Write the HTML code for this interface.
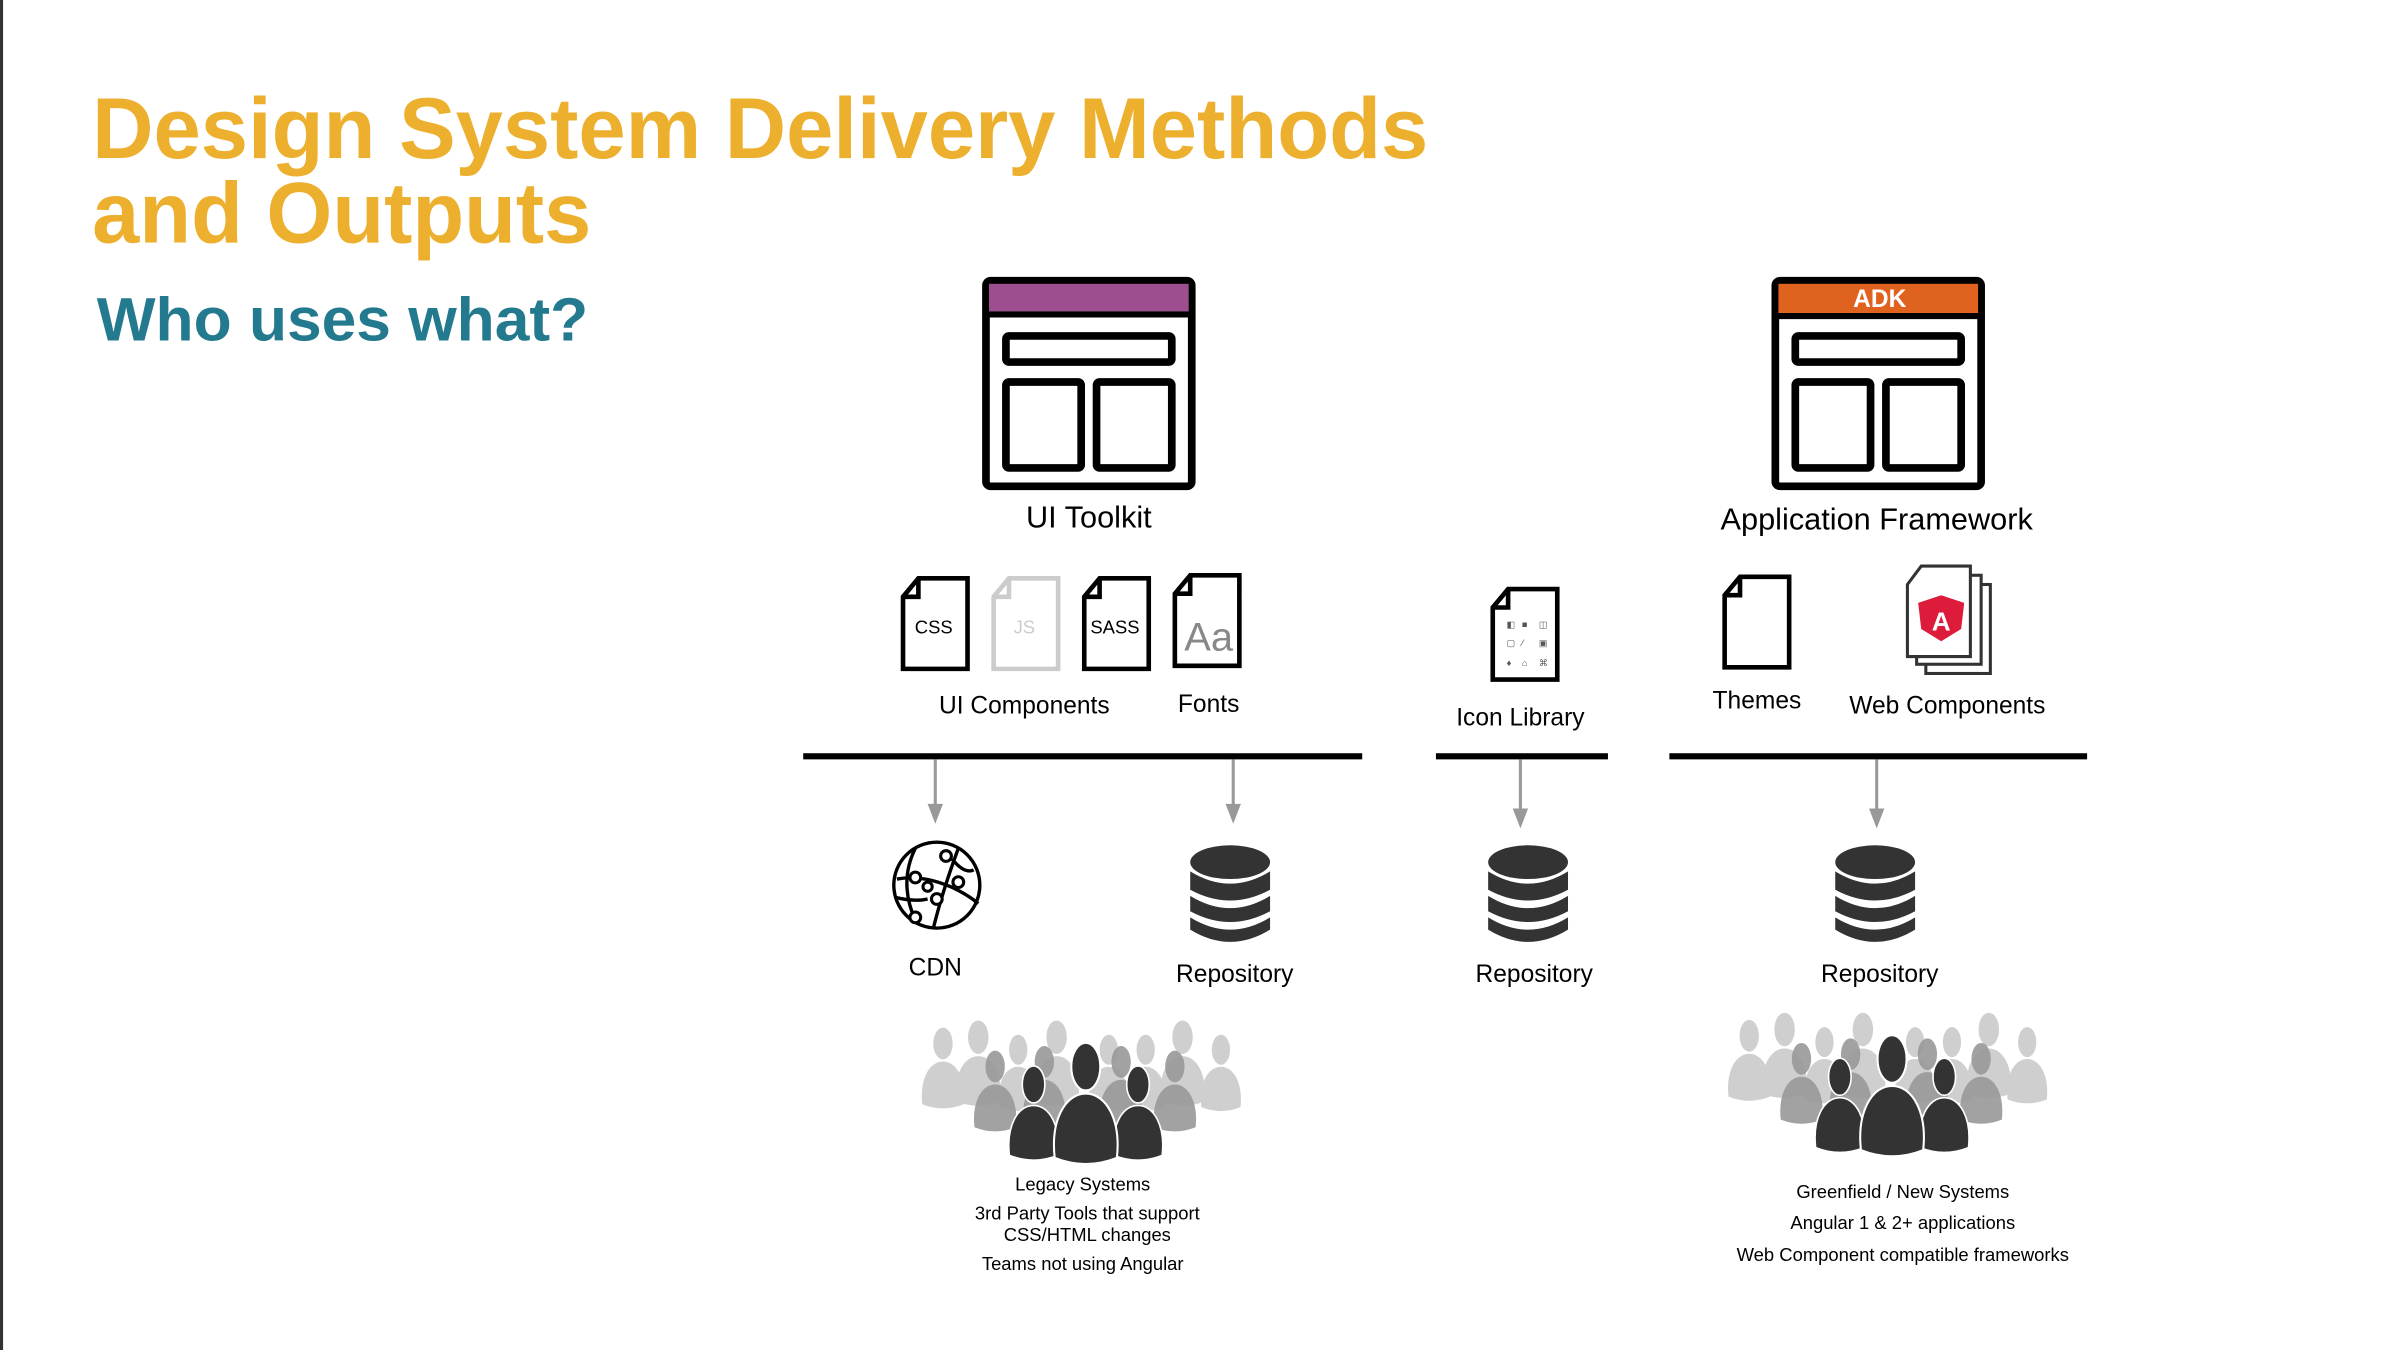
<!DOCTYPE html>
<html><head><meta charset="utf-8"><style>
html,body{margin:0;padding:0;background:#fff;}
svg{display:block;}
text{font-family:"Liberation Sans",Arial,sans-serif;}
</style></head><body>
<svg width="2405" height="1350" viewBox="0 0 1566 880" preserveAspectRatio="none" xmlns="http://www.w3.org/2000/svg">
<defs>
<g id="person"><ellipse cx="0" cy="-22" rx="7" ry="11.5"/><path d="M-15,22 C-17,4 -10,-9 0,-9 C10,-9 17,4 15,22 Q0,28 -15,22Z"/></g>
<g id="db">
<ellipse cx="0" cy="-18" rx="26" ry="11" fill="#333"/>
<path d="M-26,-12 Q0,4 26,-12 V0 Q0,14 -26,0Z" fill="#333"/>
<path d="M-26,4 Q0,20 26,4 V14 Q0,28 -26,14Z" fill="#333"/>
<path d="M-26,18 Q0,34 26,18 V26 Q0,42 -26,26Z" fill="#333"/>
</g>
<g id="file"><path d="M10,0 H42 V59 H0 V12 Z M0,12 H10 V0" fill="#fff" stroke-width="3" stroke-linejoin="miter"/></g>
</defs>
<rect x="0" y="0" width="2" height="880" fill="#333"/>
<text x="60" y="103" font-size="56" font-weight="bold" fill="#EDB02E" textLength="870" lengthAdjust="spacingAndGlyphs">Design System Delivery Methods</text>
<text x="60" y="158" font-size="56" font-weight="bold" fill="#EDB02E" textLength="325" lengthAdjust="spacingAndGlyphs">and Outputs</text>
<text x="63" y="222" font-size="40" font-weight="bold" fill="#237A8F" textLength="320" lengthAdjust="spacingAndGlyphs">Who uses what?</text>

<rect x="642" y="183" width="134" height="134" rx="3" fill="#fff" stroke="#000" stroke-width="5"/>
<rect x="644" y="185" width="130" height="18" fill="#9E4E8F"/>
<line x1="642" y1="205" x2="776" y2="205" stroke="#000" stroke-width="4"/>
<rect x="655" y="219" width="108" height="17" rx="2" fill="none" stroke="#000" stroke-width="5"/>
<rect x="655" y="249" width="49" height="56" rx="2" fill="none" stroke="#000" stroke-width="5"/>
<rect x="714" y="249" width="49" height="56" rx="2" fill="none" stroke="#000" stroke-width="5"/>
<text x="709" y="344" font-size="20" text-anchor="middle">UI Toolkit</text>

<rect x="1156" y="183" width="134" height="134" rx="3" fill="#fff" stroke="#000" stroke-width="5"/>
<rect x="1158" y="185" width="130" height="19" fill="#E0621F"/>
<text x="1224" y="200" font-size="16" font-weight="bold" fill="#fff" text-anchor="middle">ADK</text>
<line x1="1156" y1="206" x2="1290" y2="206" stroke="#000" stroke-width="4"/>
<rect x="1169" y="219" width="108" height="17" rx="2" fill="none" stroke="#000" stroke-width="5"/>
<rect x="1169" y="249" width="49" height="56" rx="2" fill="none" stroke="#000" stroke-width="5"/>
<rect x="1228" y="249" width="49" height="56" rx="2" fill="none" stroke="#000" stroke-width="5"/>
<text x="1222" y="345" font-size="20" text-anchor="middle">Application Framework</text>

<use href="#file" x="588" y="377" stroke="#000"/>
<text x="608" y="413" font-size="12" text-anchor="middle">CSS</text>
<use href="#file" x="647" y="377" stroke="#ccc"/>
<text x="667" y="413" font-size="12" text-anchor="middle" fill="#ccc">JS</text>
<use href="#file" x="706" y="377" stroke="#000"/>
<text x="726" y="413" font-size="12" text-anchor="middle">SASS</text>
<use href="#file" x="765" y="375" stroke="#000"/>
<text x="787" y="424" font-size="26" text-anchor="middle" fill="#888" font-family="Liberation Serif,serif">Aa</text>
<text x="667" y="465" font-size="16" text-anchor="middle">UI Components</text>
<text x="787" y="464" font-size="16" text-anchor="middle">Fonts</text>

<use href="#file" x="972" y="384" stroke="#000"/>
<g fill="#555" font-size="6">
<text x="981" y="409">◧</text><text x="991" y="409">■</text><text x="1002" y="409">◫</text>
<text x="981" y="421">▢</text><text x="991" y="421">⁄</text><text x="1002" y="421">▣</text>
<text x="981" y="434">♦</text><text x="991" y="434">⌂</text><text x="1002" y="434">⌘</text>
</g>
<text x="990" y="473" font-size="16" text-anchor="middle">Icon Library</text>

<use href="#file" x="1123" y="376" stroke="#000"/>
<text x="1144" y="462" font-size="16" text-anchor="middle">Themes</text>

<g stroke="#333" stroke-width="2" fill="#fff">
<rect x="1254" y="381" width="42" height="58"/>
<rect x="1248" y="375" width="42" height="58"/>
<path d="M1251,369 H1283 V428 H1242 V381 Z"/>
</g>
<path d="M1264,388 L1279,393 L1277,410 L1264,418 L1251,410 L1249,393 Z" fill="#DD1B3A"/>
<text x="1264" y="411" font-size="17" font-weight="bold" fill="#fff" text-anchor="middle">A</text>
<text x="1268" y="465" font-size="16" text-anchor="middle">Web Components</text>

<g fill="#000">
<rect x="523" y="491" width="364" height="4"/>
<rect x="935" y="491" width="112" height="4"/>
<rect x="1087" y="491" width="272" height="4"/>
</g>
<g stroke="#999" stroke-width="2" fill="#999">
<line x1="609" y1="495" x2="609" y2="528"/><path d="M604,524 L614,524 L609,537Z" stroke="none"/>
<line x1="803" y1="495" x2="803" y2="528"/><path d="M798,524 L808,524 L803,537Z" stroke="none"/>
<line x1="990" y1="495" x2="990" y2="531"/><path d="M985,527 L995,527 L990,540Z" stroke="none"/>
<line x1="1222" y1="495" x2="1222" y2="531"/><path d="M1217,527 L1227,527 L1222,540Z" stroke="none"/>
</g>

<g stroke="#000" stroke-width="2.2" fill="none">
<ellipse cx="610" cy="577" rx="28" ry="28"/>
<path d="M596,553 Q585,575 596,600"/>
<path d="M624,553 Q614,580 608,604"/>
<path d="M584,573 Q600,570 619,578 Q630,583 637,589"/>
<path d="M583,585 Q596,588 604,586"/>
<path d="M620,560 Q628,570 634,567"/>
</g>
<g fill="#fff" stroke="#000" stroke-width="2">
<circle cx="596" cy="572" r="3.5"/><circle cx="610" cy="586" r="3.5"/><circle cx="624" cy="575" r="3.5"/><circle cx="596" cy="598" r="3.5"/><circle cx="616" cy="558" r="3.5"/><circle cx="604" cy="578" r="3"/>
</g>
<text x="609" y="636" font-size="16" text-anchor="middle">CDN</text>

<use href="#db" x="801" y="580"/>
<use href="#db" x="995" y="580"/>
<use href="#db" x="1221" y="580"/>
<text x="804" y="640" font-size="16" text-anchor="middle">Repository</text>
<text x="999" y="640" font-size="16" text-anchor="middle">Repository</text>
<text x="1224" y="640" font-size="16" text-anchor="middle">Repository</text>

<g fill="#cfcfcf">
<use href="#person" transform="translate(614,700) scale(0.9)"/>
<use href="#person" transform="translate(637,697) scale(0.95)"/>
<use href="#person" transform="translate(663,703) scale(0.85)"/>
<use href="#person" transform="translate(688,697) scale(0.95)"/>
<use href="#person" transform="translate(722,703) scale(0.85)"/>
<use href="#person" transform="translate(746,703) scale(0.85)"/>
<use href="#person" transform="translate(770,697) scale(0.95)"/>
<use href="#person" transform="translate(795,703) scale(0.85)"/>
</g>
<g fill="#999" opacity="0.9">
<use href="#person" transform="translate(648,715) scale(0.9)"/>
<use href="#person" transform="translate(680,712) scale(0.9)"/>
<use href="#person" transform="translate(730,712) scale(0.9)"/>
<use href="#person" transform="translate(765,715) scale(0.9)"/>
</g>
<g fill="#333" stroke="#fff" stroke-width="1">
<use href="#person" transform="translate(673,730) scale(1.05)"/>
<use href="#person" transform="translate(741,730) scale(1.05)"/>
<use href="#person" transform="translate(707,725) scale(1.35)"/>
</g>
<g font-size="12" text-anchor="middle">
<text x="705" y="776">Legacy Systems</text>
<text x="708" y="795">3rd Party Tools that support</text>
<text x="708" y="809">CSS/HTML changes</text>
<text x="705" y="828">Teams not using Angular</text>
</g>

<g fill="#cfcfcf">
<use href="#person" transform="translate(1139,695) scale(0.9)"/>
<use href="#person" transform="translate(1162,692) scale(0.95)"/>
<use href="#person" transform="translate(1188,698) scale(0.85)"/>
<use href="#person" transform="translate(1213,692) scale(0.95)"/>
<use href="#person" transform="translate(1247,698) scale(0.85)"/>
<use href="#person" transform="translate(1271,698) scale(0.85)"/>
<use href="#person" transform="translate(1295,692) scale(0.95)"/>
<use href="#person" transform="translate(1320,698) scale(0.85)"/>
</g>
<g fill="#999" opacity="0.9">
<use href="#person" transform="translate(1173,710) scale(0.9)"/>
<use href="#person" transform="translate(1205,707) scale(0.9)"/>
<use href="#person" transform="translate(1255,707) scale(0.9)"/>
<use href="#person" transform="translate(1290,710) scale(0.9)"/>
</g>
<g fill="#333" stroke="#fff" stroke-width="1">
<use href="#person" transform="translate(1198,725) scale(1.05)"/>
<use href="#person" transform="translate(1266,725) scale(1.05)"/>
<use href="#person" transform="translate(1232,720) scale(1.35)"/>
</g>
<g font-size="12" text-anchor="middle">
<text x="1239" y="781">Greenfield / New Systems</text>
<text x="1239" y="801">Angular 1 &amp; 2+ applications</text>
<text x="1239" y="822">Web Component compatible frameworks</text>
</g>
</svg>
</body></html>
